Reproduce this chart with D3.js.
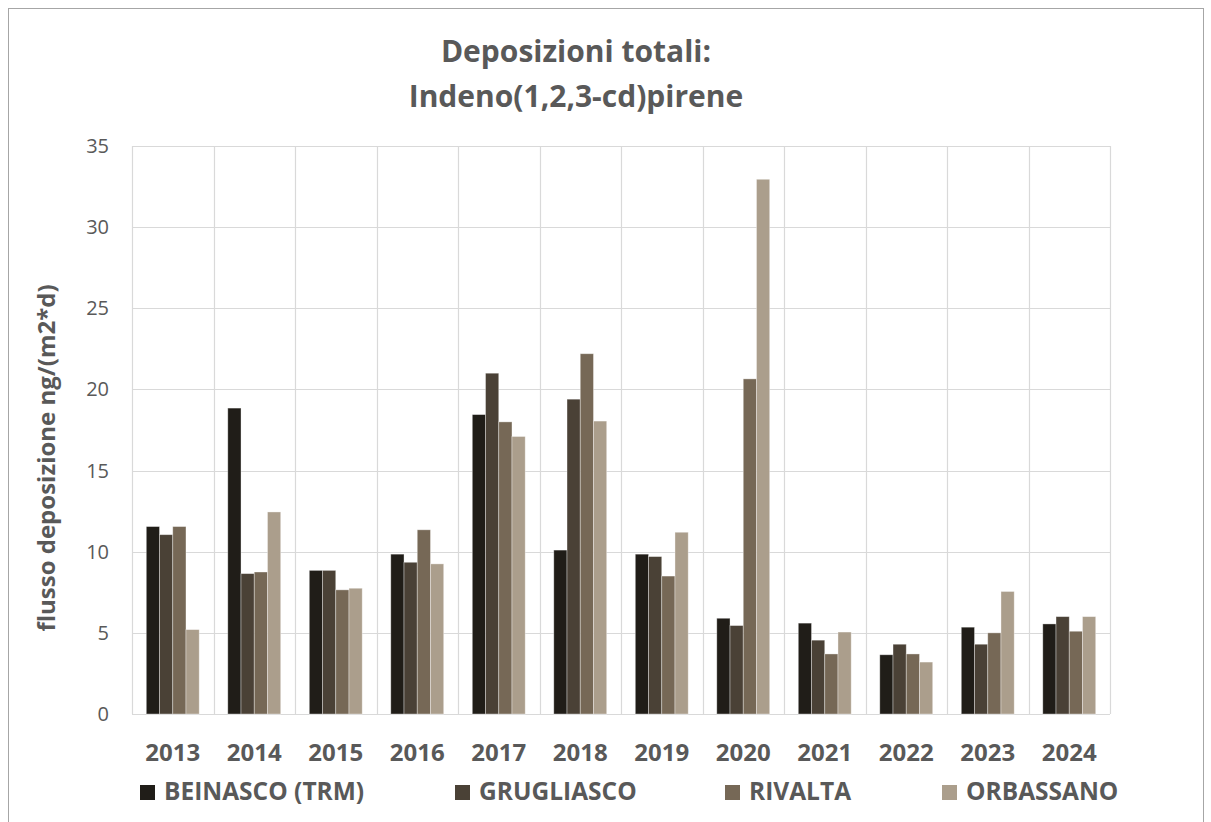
<!DOCTYPE html>
<html>
<head>
<meta charset="utf-8">
<script src="https://cdn.jsdelivr.net/npm/d3@7"></script>
<style>
  body { margin: 0; background: #fff; }
  svg { display: block; font-family: "Open Sans", sans-serif; }
</style>
</head>
<body>
<svg width="1211" height="822"></svg>
<script>
// chart data
const years = ["2013", "2014", "2015", "2016", "2017", "2018", "2019", "2020", "2021", "2022", "2023", "2024"];
const stations = ["BEINASCO (TRM)", "GRUGLIASCO", "RIVALTA", "ORBASSANO"];
const beinasco   = [11.55, 18.85, 8.85, 9.85, 18.45, 10.1, 9.85, 5.9, 5.6, 3.65, 5.35, 5.55];
const grugliasco = [11.05, 8.65, 8.85, 9.35, 21.0, 19.4, 9.7, 5.45, 4.55, 4.3, 4.3, 6.0];
const rivalta    = [11.55, 8.75, 7.65, 11.35, 18.0, 22.2, 8.5, 20.65, 3.7, 3.7, 5.0, 5.1];
const orbassano  = [5.2, 12.45, 7.75, 9.25, 17.1, 18.05, 11.2, 32.95, 5.05, 3.2, 7.55, 6.0];
const yTicks = [0, 5, 10, 15, 20, 25, 30, 35];
const colors = ["#201d18", "#4a4136", "#766856", "#ab9e8c"];

const series = [beinasco, grugliasco, rivalta, orbassano];
const table = years.map((y, i) => ({ year: y, values: series.map(s => s[i]) }));

const svg = d3.select("svg");
const margin = { left: 132, right: 1110, top: 146, bottom: 714 };
const textCol = "#595959";

// outer frame
svg.append("rect")
  .attr("x", 8.5).attr("y", 8.5)
  .attr("width", 1195).attr("height", 830)
  .attr("fill", "none").attr("stroke", "#a6a6a6").attr("stroke-width", 1);

const x = d3.scaleBand().domain(years).range([margin.left, margin.right]);
const inner = d3.scaleBand().domain(d3.range(4))
  .range([0, x.bandwidth()]).paddingOuter(1.08);
const y = d3.scaleLinear().domain([0, 35]).range([margin.bottom, margin.top]);

// horizontal gridlines
svg.append("g")
  .selectAll("line")
  .data(yTicks)
  .join("line")
  .attr("x1", margin.left).attr("x2", margin.right)
  .attr("y1", d => Math.round(y(d)) + 0.5).attr("y2", d => Math.round(y(d)) + 0.5)
  .attr("stroke", "#d9d9d9").attr("stroke-width", 1.2);

// vertical gridlines between categories
const edges = years.map(d => x(d)).concat([margin.right]);
svg.append("g")
  .selectAll("line")
  .data(edges)
  .join("line")
  .attr("x1", d => Math.round(d) + 0.5).attr("x2", d => Math.round(d) + 0.5)
  .attr("y1", margin.top).attr("y2", margin.bottom)
  .attr("stroke", "#d9d9d9").attr("stroke-width", 1.2);

// bars
const groups = svg.append("g")
  .selectAll("g")
  .data(table)
  .join("g")
  .attr("transform", d => `translate(${x(d.year)},0)`);

groups.selectAll("rect")
  .data(d => d.values)
  .join("rect")
  .attr("x", (d, i) => inner(i))
  .attr("width", inner.bandwidth())
  .attr("y", d => y(d))
  .attr("height", d => y(0) - y(d))
  .attr("fill", (d, i) => colors[i])
  .attr("stroke", "#ffffff").attr("stroke-opacity", 0.45).attr("stroke-width", 0.8);

// y axis labels
svg.append("g")
  .selectAll("text")
  .data(yTicks)
  .join("text")
  .attr("x", 109).attr("y", d => y(d) + 7)
  .attr("text-anchor", "end")
  .attr("font-size", 20).attr("fill", textCol)
  .text(d => d);

// x axis labels
svg.append("g")
  .selectAll("text")
  .data(years)
  .join("text")
  .attr("x", d => x(d) + x.bandwidth() / 2)
  .attr("y", 761)
  .attr("text-anchor", "middle")
  .attr("font-size", 24).attr("font-weight", "bold").attr("fill", textCol)
  .text(d => d);

// y axis title
svg.append("text")
  .attr("transform", "translate(55,458) rotate(-90)")
  .attr("text-anchor", "middle")
  .attr("font-size", 24).attr("font-weight", "bold").attr("fill", textCol)
  .text("flusso deposizione ng/(m2*d)");

// title
const title = svg.append("text")
  .attr("text-anchor", "middle")
  .attr("font-size", 30).attr("font-weight", "bold").attr("fill", textCol);
title.append("tspan").attr("x", 576).attr("y", 62).text("Deposizioni totali:");
title.append("tspan").attr("x", 576).attr("y", 107).text("Indeno(1,2,3-cd)pirene");

// legend
const legendX = [140, 455, 725, 942];
const legend = svg.append("g")
  .selectAll("g")
  .data(stations)
  .join("g")
  .attr("transform", (d, i) => `translate(${legendX[i]},785)`);
legend.append("rect")
  .attr("width", 15).attr("height", 15)
  .attr("fill", (d, i) => colors[i]);
legend.append("text")
  .attr("x", 24).attr("y", 15)
  .attr("font-size", 24.5).attr("font-weight", "bold").attr("fill", textCol)
  .text(d => d);
</script>
</body>
</html>
